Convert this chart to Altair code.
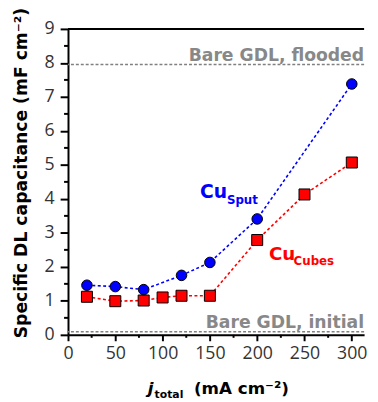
import altair as alt
import pandas as pd

# --- data ---
x_sput = [20, 50, 80, 120, 150, 200, 300]
y_sput = [1.46, 1.42, 1.33, 1.75, 2.13, 3.41, 7.38]
x_cubes = [20, 50, 80, 100, 120, 150, 200, 250, 300]
y_cubes = [1.12, 0.99, 1.01, 1.10, 1.15, 1.15, 2.79, 4.13, 5.07]
x_ticks = [0, 50, 100, 150, 200, 250, 300]
y_ticks = [0, 1, 2, 3, 4, 5, 6, 7, 8, 9]
x_minor = [25, 75, 125, 175, 225, 275]
y_minor = [0.5, 1.5, 2.5, 3.5, 4.5, 5.5, 6.5, 7.5, 8.5]
flooded_level = 7.95
initial_level = 0.09
x_max = 313
y_max = 9

W, H = 301, 311
LBL = "Open Sans"
BOLD = "DejaVu Sans"

sput = pd.DataFrame({"j": x_sput, "c": y_sput})
cubes = pd.DataFrame({"j": x_cubes, "c": y_cubes})

xs = alt.Scale(domain=[0, x_max], nice=False, zero=False)
ys = alt.Scale(domain=[0, y_max], nice=False)

xax = alt.Axis(values=x_ticks, title=None, tickSize=6, tickWidth=2, domainWidth=2,
               domainColor="black", tickColor="black", labelFont=LBL, labelFontSize=18,
               labelColor="#333", labelPadding=4, grid=False, labelOverlap=False,
               labelFlush=False)
yax = alt.Axis(values=y_ticks, title="Specific DL capacitance (mF cm⁻²)",
               tickSize=8, tickWidth=2, domainWidth=2, domainColor="black",
               tickColor="black", labelFont=LBL, labelFontSize=18, labelColor="#333",
               labelPadding=6, grid=False, labelOverlap=False, labelFlush=False,
               titleFont=BOLD, titleFontSize=17.5,
               titleFontWeight="bold", titleColor="black", titleX=-47, titleY=146,
               titleAngle=270, titleAlign="center", titleBaseline="middle")


def X(f):
    return alt.X(f, type="quantitative", scale=xs, axis=xax)


def Y(f):
    return alt.Y(f, type="quantitative", scale=ys, axis=yax)


base_sput = alt.Chart(sput)
base_cubes = alt.Chart(cubes)

line_sput = base_sput.mark_line(color="#0000ff", strokeDash=[3, 2.5], strokeWidth=1.6).encode(
    x=X("j"), y=Y("c"))
line_cubes = base_cubes.mark_line(color="#ff0000", strokeDash=[3, 2.5], strokeWidth=1.6).encode(
    x=X("j"), y=Y("c"))
pts_sput = base_sput.mark_point(shape="circle", filled=True, fill="#0000ff", stroke="black",
                                strokeWidth=1, size=115, opacity=1).encode(x=X("j"), y=Y("c"))
pts_cubes = base_cubes.mark_point(shape="square", filled=True, fill="#ff0000", stroke="black",
                                  strokeWidth=1, size=125, opacity=1).encode(x=X("j"), y=Y("c"))

ref = alt.Chart(pd.DataFrame({"v": [flooded_level, initial_level]})).mark_rule(
    color="#808080", strokeDash=[3, 2], strokeWidth=1.5).encode(y=Y("v"))
top = alt.Chart(pd.DataFrame({"v": [y_max]})).mark_rule(color="black", strokeWidth=2).encode(
    y=Y("v"))

ymin = alt.Chart(pd.DataFrame({"v": y_minor})).mark_rule(color="black", strokeWidth=2).encode(
    y=Y("v"), x=alt.value(-4), x2=alt.value(0))
xmin = alt.Chart(pd.DataFrame({"v": x_minor})).mark_rule(color="black", strokeWidth=2).encode(
    x=X("v"), y=alt.value(H), y2=alt.value(H + 3))

lbl = pd.DataFrame({"t": ["Bare GDL, flooded", "Bare GDL, initial"],
                    "y": [flooded_level, initial_level], "x": [x_max, x_max]})
ref_txt = alt.Chart(lbl).mark_text(align="right", baseline="alphabetic", dx=0, dy=-4,
                                   font=BOLD, fontWeight="bold", fontSize=17.5,
                                   color="#888").encode(x=X("x"), y=Y("y"), text="t:N")


def ann(txt, x, y, size, color):
    d = pd.DataFrame({"t": [txt], "x": [x], "y": [y]})
    return alt.Chart(d).mark_text(
        align="left", baseline="alphabetic", font=BOLD, fontWeight="bold",
        fontSize=size, color=color).encode(x=X("x"), y=Y("y"), text="t:N")


a1 = ann("Cu", 139.5, 4.02, 19, "#0000ff")
a2 = ann("Sput", 168, 3.85, 12, "#0000ff")
a3 = ann("Cu", 212.5, 2.2, 18.5, "#ff0000")
a4 = ann("Cubes", 238.5, 2.05, 12, "#ff0000")


def pix(txt, x, y, size, italic=False):
    return alt.Chart(pd.DataFrame({"t": [txt]})).mark_text(
        align="left", baseline="alphabetic", font=BOLD, fontWeight="bold",
        fontStyle="italic" if italic else "normal", fontSize=size, color="black").encode(
        x=alt.value(x), y=alt.value(y), text="t:N")


t1 = pix("j", 81, 371, 17, italic=True)
t2 = pix("total", 88, 375, 11)
t3 = pix("(mA cm⁻²)", 128, 371, 17)

chart = alt.layer(line_cubes, line_sput, ref, top, ymin, xmin, pts_cubes, pts_sput,
                  ref_txt, a1, a2, a3, a4, t1, t2, t3).properties(
    width=W, height=H,
    autosize=alt.AutoSizeParams(type="none"),
    padding={"left": 61, "top": 18, "right": 6, "bottom": 65},
).configure_view(stroke=None)

chart.save("out.html", embed_options={"renderer": "svg", "actions": False})
